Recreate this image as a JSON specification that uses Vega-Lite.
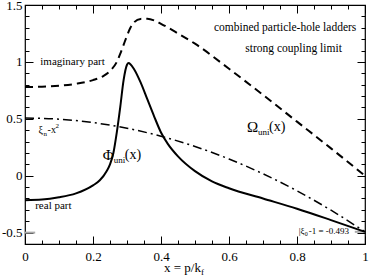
{
  "$schema": "https://vega.github.io/schema/vega-lite/v6.json",
  "width": 340,
  "height": 239,
  "autosize": {"type": "none"},
  "padding": {"left": 25, "top": 5, "right": 4, "bottom": 33},
  "config": {
    "view": {"stroke": "black", "strokeWidth": 1.2},
    "axis": {"grid": false, "domain": false, "labelFont": "'Liberation Serif', 'Times New Roman', Times, serif", "labelFontSize": 13, "labelColor": "black", "tickColor": "black", "tickWidth": 1, "labelFlush": false, "labelOverlap": false, "title": null},
    "text": {"font": "'Liberation Serif', 'Times New Roman', Times, serif", "color": "black"}
  },
  "resolve": {"axis": {"x": "independent", "y": "independent"}},
  "datasets": {
    "curves": [
      {"x": 0, "y": 0.78, "s": "imag"}, {"x": 0.05, "y": 0.782, "s": "imag"}, {"x": 0.1, "y": 0.79, "s": "imag"}, {"x": 0.15, "y": 0.808, "s": "imag"}, {"x": 0.2, "y": 0.84, "s": "imag"}, {"x": 0.23, "y": 0.875, "s": "imag"}, {"x": 0.25, "y": 0.92, "s": "imag"}, {"x": 0.27, "y": 1.0, "s": "imag"}, {"x": 0.28, "y": 1.07, "s": "imag"}, {"x": 0.29, "y": 1.15, "s": "imag"}, {"x": 0.3, "y": 1.23, "s": "imag"}, {"x": 0.31, "y": 1.3, "s": "imag"}, {"x": 0.32, "y": 1.345, "s": "imag"}, {"x": 0.34, "y": 1.378, "s": "imag"}, {"x": 0.36, "y": 1.38, "s": "imag"}, {"x": 0.38, "y": 1.365, "s": "imag"}, {"x": 0.4, "y": 1.335, "s": "imag"}, {"x": 0.45, "y": 1.25, "s": "imag"}, {"x": 0.5, "y": 1.16, "s": "imag"}, {"x": 0.6, "y": 0.94, "s": "imag"}, {"x": 0.7, "y": 0.71, "s": "imag"}, {"x": 0.8, "y": 0.475, "s": "imag"}, {"x": 0.9, "y": 0.24, "s": "imag"}, {"x": 1.0, "y": 0.0, "s": "imag"},
      {"x": 0, "y": -0.215, "s": "real"}, {"x": 0.05, "y": -0.21, "s": "real"}, {"x": 0.1, "y": -0.19, "s": "real"}, {"x": 0.15, "y": -0.155, "s": "real"}, {"x": 0.2, "y": -0.085, "s": "real"}, {"x": 0.22, "y": -0.04, "s": "real"}, {"x": 0.24, "y": 0.04, "s": "real"}, {"x": 0.25, "y": 0.1, "s": "real"}, {"x": 0.26, "y": 0.2, "s": "real"}, {"x": 0.27, "y": 0.38, "s": "real"}, {"x": 0.28, "y": 0.6, "s": "real"}, {"x": 0.29, "y": 0.84, "s": "real"}, {"x": 0.3, "y": 0.975, "s": "real"}, {"x": 0.305, "y": 0.99, "s": "real"}, {"x": 0.31, "y": 0.98, "s": "real"}, {"x": 0.32, "y": 0.94, "s": "real"}, {"x": 0.34, "y": 0.82, "s": "real"}, {"x": 0.36, "y": 0.67, "s": "real"}, {"x": 0.38, "y": 0.52, "s": "real"}, {"x": 0.4, "y": 0.38, "s": "real"}, {"x": 0.42, "y": 0.28, "s": "real"}, {"x": 0.45, "y": 0.17, "s": "real"}, {"x": 0.5, "y": 0.04, "s": "real"}, {"x": 0.55, "y": -0.05, "s": "real"}, {"x": 0.6, "y": -0.11, "s": "real"}, {"x": 0.7, "y": -0.2, "s": "real"}, {"x": 0.8, "y": -0.29, "s": "real"}, {"x": 0.9, "y": -0.39, "s": "real"}, {"x": 1.0, "y": -0.493, "s": "real"},
      {"x": 0, "y": 0.507, "s": "xi"}, {"x": 0.1, "y": 0.497, "s": "xi"}, {"x": 0.2, "y": 0.467, "s": "xi"}, {"x": 0.3, "y": 0.417, "s": "xi"}, {"x": 0.4, "y": 0.347, "s": "xi"}, {"x": 0.5, "y": 0.257, "s": "xi"}, {"x": 0.6, "y": 0.147, "s": "xi"}, {"x": 0.7, "y": 0.017, "s": "xi"}, {"x": 0.8, "y": -0.133, "s": "xi"}, {"x": 0.9, "y": -0.303, "s": "xi"}, {"x": 1.0, "y": -0.493, "s": "xi"}
    ],
    "marks": [
      {"x": 0, "x2": 0.03, "y": -0.5},
      {"x": 0.97, "x2": 1.0, "y": -0.493}
    ],
    "labels": [
      {"x": 0.045, "y": 1.0, "t": "imaginary part", "g": "plain"},
      {"x": 0.03, "y": -0.27, "t": "real part", "g": "plain"},
      {"x": 0.765, "y": 1.3, "t": "combined particle-hole ladders", "g": "center"},
      {"x": 0.79, "y": 1.11, "t": "strong coupling limit", "g": "center"},
      {"x": 0.229, "y": 0.18, "t": "Φ", "g": "big"},
      {"x": 0.229, "y": 0.18, "t": "uni", "g": "sub1"},
      {"x": 0.229, "y": 0.18, "t": "(x)", "g": "paren1"},
      {"x": 0.653, "y": 0.43, "t": "Ω", "g": "big"},
      {"x": 0.653, "y": 0.43, "t": "uni", "g": "sub2"},
      {"x": 0.653, "y": 0.43, "t": "(x)", "g": "paren2"},
      {"x": 0.04, "y": 0.4, "t": "ξ", "g": "small"},
      {"x": 0.04, "y": 0.4, "t": "n", "g": "smallsub"},
      {"x": 0.04, "y": 0.4, "t": "-x", "g": "smallrest"},
      {"x": 0.04, "y": 0.4, "t": "2", "g": "smallsup"},
      {"x": 0.805, "y": -0.49, "t": "|ξ", "g": "tiny"},
      {"x": 0.805, "y": -0.49, "t": "0", "g": "tinysub"},
      {"x": 0.805, "y": -0.49, "t": "-1 = -0.493", "g": "tinyrest"},
      {"x": 0.4, "y": -0.81, "t": "x = p/k", "g": "title"},
      {"x": 0.4, "y": -0.81, "t": "f", "g": "titlesub"}
    ]
  },
  "layer": [
    {
      "mark": {"type": "rule", "color": "#aaaaaa", "strokeWidth": 2},
      "encoding": {"y": {"datum": 0, "type": "quantitative", "scale": {"domain": [-0.6, 1.5], "nice": false, "zero": false}, "axis": null}}
    },
    {
      "data": {"name": "marks"},
      "mark": {"type": "rule", "color": "#aaaaaa", "strokeWidth": 2},
      "encoding": {
        "x": {"field": "x", "type": "quantitative", "axis": null},
        "x2": {"field": "x2"},
        "y": {"field": "y", "type": "quantitative", "axis": null}
      }
    },
    {
      "data": {"name": "curves"},
      "transform": [{"filter": "datum.s === 'real'"}],
      "mark": {"type": "line", "color": "black", "strokeWidth": 2, "interpolate": "monotone"},
      "encoding": {
        "x": {"field": "x", "type": "quantitative", "scale": {"domain": [0, 1], "nice": false, "zero": false},
              "axis": {"orient": "bottom", "values": [0, 0.2, 0.4, 0.6, 0.8, 1], "format": "~g", "tickSize": -8, "labelPadding": 14, "labelBaseline": "top"}},
        "y": {"field": "y", "type": "quantitative", "scale": {"domain": [-0.6, 1.5], "nice": false, "zero": false},
              "axis": {"orient": "left", "values": [-0.5, 0, 0.5, 1, 1.5], "format": "~g", "labelExpr": "replace(datum.label, '−', '-')", "tickSize": -8, "labelPadding": 11}}
      }
    },
    {
      "data": {"name": "curves"},
      "transform": [{"filter": "datum.s === 'imag'"}],
      "mark": {"type": "line", "color": "black", "strokeWidth": 2, "strokeDash": [8, 5], "interpolate": "monotone"},
      "encoding": {
        "x": {"field": "x", "type": "quantitative",
              "axis": {"orient": "bottom", "values": [0.05, 0.1, 0.15, 0.25, 0.3, 0.35, 0.45, 0.5, 0.55, 0.65, 0.7, 0.75, 0.85, 0.9, 0.95], "labels": false, "tickSize": -4}},
        "y": {"field": "y", "type": "quantitative",
              "axis": {"orient": "left", "values": [-0.4, -0.3, -0.2, -0.1, 0.1, 0.2, 0.3, 0.4, 0.6, 0.7, 0.8, 0.9, 1.1, 1.2, 1.3, 1.4], "labels": false, "tickSize": -4}}
      }
    },
    {
      "data": {"name": "curves"},
      "transform": [{"filter": "datum.s === 'xi'"}],
      "mark": {"type": "line", "color": "black", "strokeWidth": 1.5, "strokeDash": [9, 4, 2, 4], "interpolate": "monotone"},
      "encoding": {
        "x": {"field": "x", "type": "quantitative",
              "axis": {"orient": "top", "values": [0, 0.2, 0.4, 0.6, 0.8, 1], "labels": false, "tickSize": -8}},
        "y": {"field": "y", "type": "quantitative",
              "axis": {"orient": "right", "values": [-0.5, 0, 0.5, 1, 1.5], "labels": false, "tickSize": -8}}
      }
    },
    {
      "data": {"name": "labels"},
      "transform": [{"filter": "datum.g === 'plain'"}],
      "mark": {"type": "text", "fontSize": 11, "align": "left", "baseline": "middle"},
      "encoding": {
        "x": {"field": "x", "type": "quantitative",
              "axis": {"orient": "top", "values": [0.05, 0.1, 0.15, 0.25, 0.3, 0.35, 0.45, 0.5, 0.55, 0.65, 0.7, 0.75, 0.85, 0.9, 0.95], "labels": false, "tickSize": -4}},
        "y": {"field": "y", "type": "quantitative",
              "axis": {"orient": "right", "values": [-0.4, -0.3, -0.2, -0.1, 0.1, 0.2, 0.3, 0.4, 0.6, 0.7, 0.8, 0.9, 1.1, 1.2, 1.3, 1.4], "labels": false, "tickSize": -4}},
        "text": {"field": "t"}
      }
    },
    {
      "data": {"name": "labels"},
      "transform": [{"filter": "datum.g === 'center'"}],
      "mark": {"type": "text", "fontSize": 11.5, "align": "center", "baseline": "middle"},
      "encoding": {
        "x": {"field": "x", "type": "quantitative", "axis": null},
        "y": {"field": "y", "type": "quantitative", "axis": null},
        "text": {"field": "t"}
      }
    },
    {
      "data": {"name": "labels"},
      "transform": [{"filter": "datum.g === 'big'"}],
      "mark": {"type": "text", "fontSize": 15, "align": "left", "baseline": "middle"},
      "encoding": {
        "x": {"field": "x", "type": "quantitative", "axis": null},
        "y": {"field": "y", "type": "quantitative", "axis": null},
        "text": {"field": "t"}
      }
    },
    {
      "data": {"name": "labels"},
      "transform": [{"filter": "datum.g === 'sub1'"}],
      "mark": {"type": "text", "fontSize": 9, "align": "left", "baseline": "middle", "dx": 11, "dy": 5},
      "encoding": {
        "x": {"field": "x", "type": "quantitative", "axis": null},
        "y": {"field": "y", "type": "quantitative", "axis": null},
        "text": {"field": "t"}
      }
    },
    {
      "data": {"name": "labels"},
      "transform": [{"filter": "datum.g === 'paren1'"}],
      "mark": {"type": "text", "fontSize": 14, "align": "left", "baseline": "middle", "dx": 22},
      "encoding": {
        "x": {"field": "x", "type": "quantitative", "axis": null},
        "y": {"field": "y", "type": "quantitative", "axis": null},
        "text": {"field": "t"}
      }
    },
    {
      "data": {"name": "labels"},
      "transform": [{"filter": "datum.g === 'sub2'"}],
      "mark": {"type": "text", "fontSize": 9, "align": "left", "baseline": "middle", "dx": 11, "dy": 5},
      "encoding": {
        "x": {"field": "x", "type": "quantitative", "axis": null},
        "y": {"field": "y", "type": "quantitative", "axis": null},
        "text": {"field": "t"}
      }
    },
    {
      "data": {"name": "labels"},
      "transform": [{"filter": "datum.g === 'paren2'"}],
      "mark": {"type": "text", "fontSize": 14, "align": "left", "baseline": "middle", "dx": 22},
      "encoding": {
        "x": {"field": "x", "type": "quantitative", "axis": null},
        "y": {"field": "y", "type": "quantitative", "axis": null},
        "text": {"field": "t"}
      }
    },
    {
      "data": {"name": "labels"},
      "transform": [{"filter": "datum.g === 'small'"}],
      "mark": {"type": "text", "fontSize": 10, "align": "left", "baseline": "middle"},
      "encoding": {
        "x": {"field": "x", "type": "quantitative", "axis": null},
        "y": {"field": "y", "type": "quantitative", "axis": null},
        "text": {"field": "t"}
      }
    },
    {
      "data": {"name": "labels"},
      "transform": [{"filter": "datum.g === 'smallsub'"}],
      "mark": {"type": "text", "fontSize": 7, "align": "left", "baseline": "middle", "dx": 5, "dy": 4},
      "encoding": {
        "x": {"field": "x", "type": "quantitative", "axis": null},
        "y": {"field": "y", "type": "quantitative", "axis": null},
        "text": {"field": "t"}
      }
    },
    {
      "data": {"name": "labels"},
      "transform": [{"filter": "datum.g === 'smallrest'"}],
      "mark": {"type": "text", "fontSize": 10, "align": "left", "baseline": "middle", "dx": 9},
      "encoding": {
        "x": {"field": "x", "type": "quantitative", "axis": null},
        "y": {"field": "y", "type": "quantitative", "axis": null},
        "text": {"field": "t"}
      }
    },
    {
      "data": {"name": "labels"},
      "transform": [{"filter": "datum.g === 'smallsup'"}],
      "mark": {"type": "text", "fontSize": 7, "align": "left", "baseline": "middle", "dx": 17, "dy": -4},
      "encoding": {
        "x": {"field": "x", "type": "quantitative", "axis": null},
        "y": {"field": "y", "type": "quantitative", "axis": null},
        "text": {"field": "t"}
      }
    },
    {
      "data": {"name": "labels"},
      "transform": [{"filter": "datum.g === 'tiny'"}],
      "mark": {"type": "text", "fontSize": 9, "align": "left", "baseline": "middle"},
      "encoding": {
        "x": {"field": "x", "type": "quantitative", "axis": null},
        "y": {"field": "y", "type": "quantitative", "axis": null},
        "text": {"field": "t"}
      }
    },
    {
      "data": {"name": "labels"},
      "transform": [{"filter": "datum.g === 'tinysub'"}],
      "mark": {"type": "text", "fontSize": 6, "align": "left", "baseline": "middle", "dx": 6, "dy": 3},
      "encoding": {
        "x": {"field": "x", "type": "quantitative", "axis": null},
        "y": {"field": "y", "type": "quantitative", "axis": null},
        "text": {"field": "t"}
      }
    },
    {
      "data": {"name": "labels"},
      "transform": [{"filter": "datum.g === 'tinyrest'"}],
      "mark": {"type": "text", "fontSize": 9, "align": "left", "baseline": "middle", "dx": 10},
      "encoding": {
        "x": {"field": "x", "type": "quantitative", "axis": null},
        "y": {"field": "y", "type": "quantitative", "axis": null},
        "text": {"field": "t"}
      }
    },
    {
      "data": {"name": "labels"},
      "transform": [{"filter": "datum.g === 'title'"}],
      "mark": {"type": "text", "fontSize": 13, "align": "left", "baseline": "middle", "dx": 3},
      "encoding": {
        "x": {"field": "x", "type": "quantitative", "axis": null},
        "y": {"field": "y", "type": "quantitative", "axis": null},
        "text": {"field": "t"}
      }
    },
    {
      "data": {"name": "labels"},
      "transform": [{"filter": "datum.g === 'titlesub'"}],
      "mark": {"type": "text", "fontSize": 9, "align": "left", "baseline": "middle", "dx": 40, "dy": 4},
      "encoding": {
        "x": {"field": "x", "type": "quantitative", "axis": null},
        "y": {"field": "y", "type": "quantitative", "axis": null},
        "text": {"field": "t"}
      }
    }
  ]
}
